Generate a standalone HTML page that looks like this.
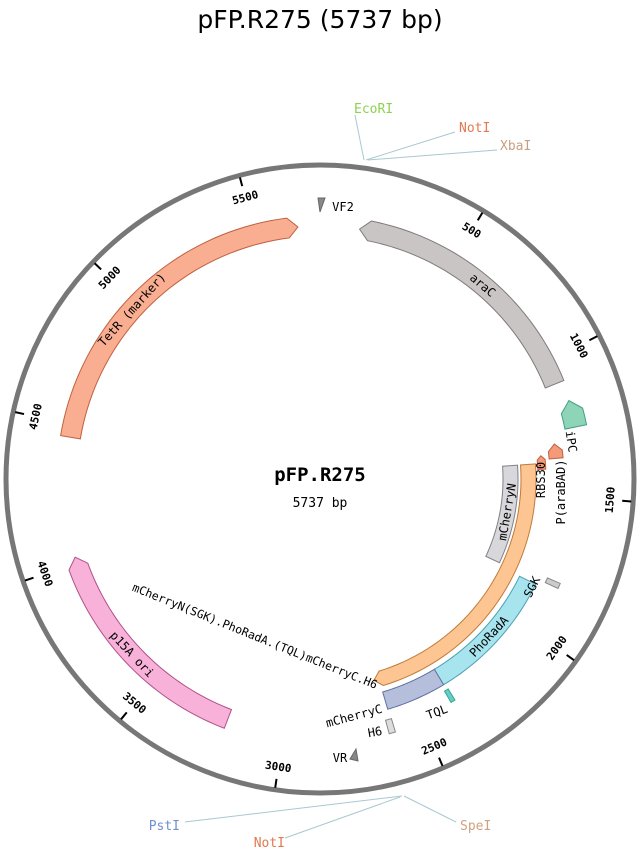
<!DOCTYPE html>
<html><head><meta charset="utf-8"><style>
body{margin:0;background:#fff;width:640px;height:848px;overflow:hidden}
svg{display:block}
text{font-family:"DejaVu Sans Mono","Liberation Mono",monospace}
</style></head><body>
<svg id="s" width="640" height="848" xmlns="http://www.w3.org/2000/svg">
<text x="320" y="28" text-anchor="middle" style="font-family:'DejaVu Sans','Liberation Sans',sans-serif;font-size:25px" fill="#000">pFP.R275 (5737 bp)</text>
<circle cx="320" cy="479" r="314" fill="none" stroke="#777" stroke-width="5"/>
<text x="320" y="481" text-anchor="middle" font-weight="bold" font-size="19">pFP.R275</text>
<text x="320" y="507" text-anchor="middle" font-size="13">5737 bp</text>
</svg>
<script>
const S=document.getElementById('s'),cx=320,cy=479,NS="http://www.w3.org/2000/svg";
function P(a,r){const t=a*Math.PI/180;return [cx+r*Math.sin(t),cy-r*Math.cos(t)];}
function el(n,at,txt){const e=document.createElementNS(NS,n);for(const k in at)e.setAttribute(k,at[k]);if(txt)e.textContent=txt;S.appendChild(e);return e;}
function rot(a){return a>90&&a<270?a-180:a;}
function lab(a,r,t,fs,fill,extra){const p=P(a,r);const e=el('text',Object.assign({x:p[0],y:p[1],'font-size':fs,fill:fill||'#000','text-anchor':'middle','dominant-baseline':'central',transform:`rotate(${rot(a)} ${p[0]} ${p[1]})`},extra||{}),t);return e;}
function feat(a1,a2,ri,ro,dir,fill,stroke,tipf){
 const h=(ro-ri)/2,rm=(ri+ro)/2;let tip=(h)/rm*180/Math.PI;
 if(tip>(a2-a1)*(tipf||0.6))tip=(a2-a1)*(tipf||0.6);
 let s=a1,e=a2;
 if(dir==1)e=a2-tip; if(dir==-1)s=a1+tip;
 const pts=[];
 const arc=(r,f,t)=>{const n=40;for(let i=0;i<=n;i++)pts.push(P(f+(t-f)*i/n,r));};
 if(dir==-1)pts.push(P(a1,rm));
 arc(ro,s,e);
 if(dir==1)pts.push(P(a2,rm));
 arc(ri,e,s);
 el('polygon',{points:pts.map(p=>p.join(',')).join(' '),fill:fill,stroke:stroke,'stroke-width':1});
}
for(let b=500;b<5737;b+=500){const a=b/5737*360;const p1=P(a,312),p2=P(a,303);
 el('line',{x1:p1[0],y1:p1[1],x2:p2[0],y2:p2[1],stroke:'#000','stroke-width':2});
 lab(a,291,String(b),11,'#000',{'font-weight':'bold'});}
feat(279.5,355,243,263,1,'#f9ae91','#c0603f');
lab(312,253,'TetR (marker)',12);
feat(9,68,243,263,-1,'#cac5c5','#807a7a');
lab(40,253,'araC',12);
feat(86,115,183,198,0,'#d8d8dc','#808088');
lab(100,190,'mCherryN',12);
feat(86,165,201,216,1,'#fdc592','#c07a3a');
feat(116,149,222,240,0,'#a8e4ee','#4aa0b5');
lab(133,231,'PhoRadA',12);
feat(149,163.6,222,240,0,'#b5bfdc','#6070a0');
feat(201,252.3,247,267,1,'#f8b2da','#b05088');
lab(227,257,'p15A ori',12);
feat(72.5,78.5,250,272,-1,'#8ed4b8','#40a080',0.4);
lab(81.5,254,'iPC',12);
feat(81.5,85,230,244,-1,'#f39a78','#c06040',0.9);
feat(84,87.5,218,226,-1,'#f39a78','#c06040',0.9);
{let p=[561,492];el('text',{x:p[0],y:p[1],'font-size':12,'text-anchor':'middle','dominant-baseline':'central',transform:`rotate(-90 ${p[0]} ${p[1]})`},'P(araBAD)');
 p=[541,480];el('text',{x:p[0],y:p[1],'font-size':12,'text-anchor':'middle','dominant-baseline':'central',transform:`rotate(-90 ${p[0]} ${p[1]})`},'RBS30');}
feat(113.5,114.7,248,262,0,'#ccc','#888');
lab(117,238,'SGK',12);
feat(148.6,149.6,246,259,0,'#6cc','#3a8');
el('text',{x:437,y:716,'font-size':12,'text-anchor':'middle',transform:'rotate(-20 437 712)'},'TQL');
feat(163.4,164.8,250,264,0,'#ddd','#888');
el('text',{x:375,y:736,'font-size':12,'text-anchor':'middle',transform:'rotate(-10 375 732)'},'H6');
el('text',{x:354,y:720,'font-size':12,'text-anchor':'middle',transform:'rotate(-15 354 716)'},'mCherryC');
el('polygon',{points:'350,759 356,749 358,761',fill:'#888',stroke:'#666'});
el('text',{x:340,y:762,'font-size':12,'text-anchor':'middle'},'VR');
el('polygon',{points:'318,198 325,198 320,212',fill:'#888',stroke:'#666'});
el('text',{x:343,y:211,'font-size':12,'text-anchor':'middle'},'VF2');
el('text',{x:255,y:640,'font-size':11.5,'text-anchor':'middle',transform:'rotate(22 255 636)'},'mCherryN(SGK).PhoRadA.(TQL)mCherryC.H6');
const lc='#a9c8d0';
function site(x0,y0,x1,y1,tx,ty,t,c,anc){el('polyline',{points:`${x0},${y0} ${x1},${y1}`,fill:'none',stroke:lc,'stroke-width':1});
 el('text',{x:tx,y:ty,'font-size':13,fill:c,'text-anchor':anc||'start'},t);}
site(364,160,355,115,354,113,'EcoRI','#8fd14f');
site(366,160,455,132,459,132,'NotI','#e07a50');
site(368,160,497,150,500,150,'XbaI','#c8a080');
site(402,796,185,822,180,830,'PstI','#7090d0','end');
site(400,797,285,838,285,847,'NotI','#e07a50','end');
site(404,796,456,822,460,830,'SpeI','#d0a080');
</script>
</body></html>
